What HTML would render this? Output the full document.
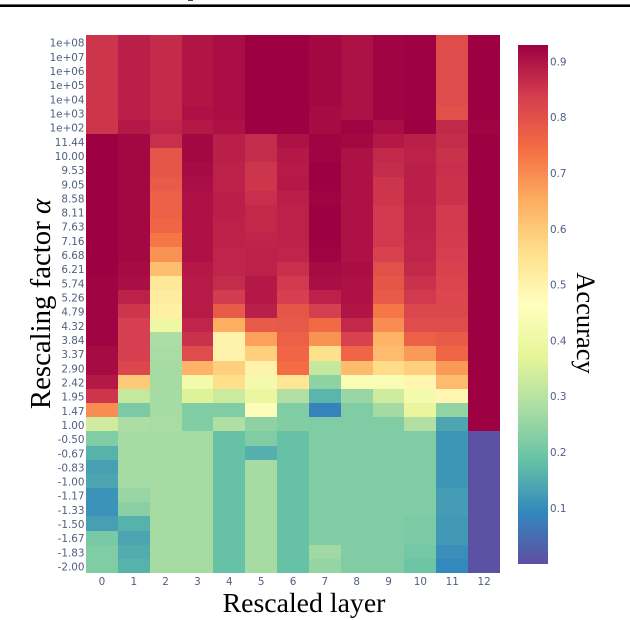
<!DOCTYPE html>
<html>
<head>
<meta charset="utf-8">
<style>
html,body{margin:0;padding:0;background:#fff;width:630px;height:620px;overflow:hidden}
svg{display:block}
.tick{font-family:"DejaVu Sans","Liberation Sans",sans-serif;font-size:10.4px;fill:#4f5f80}
.title{font-family:"Liberation Serif",serif;font-size:27.8px;fill:#000}
</style>
</head>
<body>
<svg id="chart" width="630" height="620" viewBox="0 0 630 620" xmlns="http://www.w3.org/2000/svg">
  <rect x="0" y="4" width="630" height="1" fill="#666"/>
  <rect x="0" y="5" width="630" height="2" fill="#000"/>
  <rect x="188" y="0" width="5" height="1" fill="#444"/>
  <g id="cells"></g>
  <g id="yticks"></g>
  <g id="xticks"></g>
  <g id="cbar"></g>
  <g id="cticks"></g>
  <text class="title" x="304" y="612" text-anchor="middle">Rescaled layer</text>
  <text class="title" style="font-size:28.8px" transform="translate(50,304) rotate(-90)" text-anchor="middle">Rescaling factor <tspan font-style="italic">α</tspan></text>
  <text class="title" style="font-size:26.5px" transform="translate(577,323) rotate(90)" text-anchor="middle">Accuracy</text>
</svg>
<script>
const layerLabels = ["0","1","2","3","4","5","6","7","8","9","10","11","12"];
const alphaLabels = ["1e+08","1e+07","1e+06","1e+05","1e+04","1e+03","1e+02",
  "11.44","10.00","9.53","9.05","8.58","8.11","7.63","7.16","6.68","6.21","5.74","5.26","4.79","4.32","3.84","3.37","2.90","2.42","1.95","1.47","1.00",
  "-0.50","-0.67","-0.83","-1.00","-1.17","-1.33","-1.50","-1.67","-1.83","-2.00"];
const colorbarTicks = [0.1,0.2,0.3,0.4,0.5,0.6,0.7,0.8,0.9];
const spectralScale = [[94,79,162],[50,136,189],[102,194,165],[171,221,164],[230,245,152],[255,255,191],[254,224,139],[253,174,97],[244,109,67],[213,62,79],[158,1,66]];
const accuracyLayer0 = [.85,.85,.85,.85,.85,.85,.85, .93,.93,.93,.93,.93,.93,.93,.93,.93,.93,.925,.925,.925,.925,.925,.915,.915,.895,.85,.70,.335, .22,.16,.13,.14,.11,.11,.13,.21,.22,.22];
const accuracyLayer1 = [.884,.884,.884,.884,.884,.884,.895, .92,.92,.92,.92,.92,.92,.92,.92,.92,.915,.91,.88,.85,.835,.835,.835,.82,.60,.32,.215,.28, .272,.272,.272,.272,.255,.235,.16,.14,.15,.16];
const accuracyLayer2 = [.866,.866,.866,.866,.866,.866,.875, .86,.79,.79,.78,.77,.77,.76,.73,.69,.62,.53,.52,.51,.40,.28,.275,.272,.272,.272,.272,.275, .272,.272,.272,.272,.272,.272,.272,.272,.272,.272];
const accuracyLayer3 = [.90,.90,.90,.90,.90,.905,.895, .92,.92,.915,.91,.905,.905,.905,.905,.905,.895,.89,.89,.89,.875,.855,.81,.64,.42,.36,.22,.225, .272,.272,.272,.272,.272,.272,.272,.272,.272,.272];
const accuracyLayer4 = [.91,.91,.91,.91,.91,.91,.905, .884,.884,.88,.88,.885,.885,.88,.88,.875,.875,.865,.84,.78,.65,.50,.50,.59,.56,.33,.22,.285, .187,.187,.187,.187,.187,.187,.187,.187,.187,.187];
const accuracyLayer5 = [.93,.93,.93,.93,.93,.93,.93, .865,.865,.85,.85,.86,.87,.87,.875,.88,.88,.895,.895,.885,.78,.67,.59,.50,.42,.39,.45,.24, .22,.155,.272,.272,.272,.272,.272,.272,.272,.272];
const accuracyLayer6 = [.93,.93,.93,.93,.93,.93,.93, .905,.895,.89,.895,.885,.88,.88,.88,.875,.86,.845,.835,.79,.785,.77,.76,.745,.54,.29,.22,.225, .187,.187,.187,.187,.187,.187,.187,.187,.187,.187];
const accuracyLayer7 = [.92,.92,.92,.92,.92,.915,.915, .925,.925,.93,.93,.925,.93,.93,.93,.925,.915,.91,.88,.835,.75,.69,.555,.32,.24,.165,.085,.22, .222,.222,.222,.222,.222,.222,.222,.222,.265,.25];
const accuracyLayer8 = [.906,.906,.906,.906,.906,.906,.925, .92,.905,.905,.905,.905,.905,.905,.905,.905,.91,.905,.905,.90,.87,.83,.76,.625,.44,.255,.22,.222, .222,.222,.222,.222,.222,.222,.222,.222,.222,.222];
const accuracyLayer9 = [.925,.925,.925,.925,.925,.925,.91, .895,.87,.865,.85,.85,.845,.845,.845,.83,.80,.79,.78,.73,.70,.64,.625,.565,.44,.335,.27,.222, .222,.222,.222,.222,.222,.222,.222,.222,.222,.222];
const accuracyLayer10 = [.928,.928,.928,.928,.928,.928,.93, .885,.88,.885,.885,.885,.88,.88,.875,.875,.87,.855,.845,.82,.81,.77,.68,.59,.49,.42,.385,.29, .222,.222,.222,.222,.222,.222,.215,.215,.205,.195];
const accuracyLayer11 = [.81,.81,.81,.81,.81,.80,.87, .865,.855,.86,.855,.855,.845,.845,.84,.835,.83,.825,.82,.82,.81,.78,.76,.68,.625,.49,.245,.14, .115,.115,.115,.115,.125,.125,.12,.12,.105,.095];
const accuracyLayer12 = [.93,.93,.93,.93,.93,.93,.925, .93,.93,.93,.93,.93,.93,.93,.93,.93,.93,.93,.93,.93,.93,.93,.93,.93,.93,.93,.93,.93, .005,.005,.005,.005,.005,.005,.005,.005,.005,.005];
const accuracyByLayer = [accuracyLayer0,accuracyLayer1,accuracyLayer2,accuracyLayer3,accuracyLayer4,accuracyLayer5,accuracyLayer6,accuracyLayer7,accuracyLayer8,accuracyLayer9,accuracyLayer10,accuracyLayer11,accuracyLayer12];
const zMin = 0;
const zMax = 0.93;

const NS = "http://www.w3.org/2000/svg";
const plot = {left:86, right:500, top:35, bottom:573};
const bar = {left:518, right:548, top:45, bottom:564};
function xBand(i){ return plot.left + (plot.right - plot.left) * i / layerLabels.length; }
function yBand(i){ return plot.top + (plot.bottom - plot.top) * i / alphaLabels.length; }
function zToBarY(z){ return bar.bottom - (z - zMin) / (zMax - zMin) * (bar.bottom - bar.top); }
function color(z){
  const t = Math.max(0, Math.min(1, (z - zMin) / (zMax - zMin))) * (spectralScale.length - 1);
  const i = Math.min(Math.floor(t), spectralScale.length - 2);
  const f = t - i, a = spectralScale[i], b = spectralScale[i + 1];
  return "rgb(" + a.map((v, k) => Math.round(v + (b[k] - v) * f)).join(",") + ")";
}
function make(tag, attrs, parent, txt){
  const el = document.createElementNS(NS, tag);
  for (const k in attrs) el.setAttribute(k, attrs[k]);
  if (txt !== undefined) el.textContent = txt;
  parent.appendChild(el);
  return el;
}
const cells = document.getElementById("cells");
accuracyByLayer.forEach((col, c) => {
  col.forEach((v, r) => {
    const x0 = Math.round(xBand(c)), x1 = Math.round(xBand(c + 1));
    const y0 = Math.round(yBand(r)), y1 = Math.round(yBand(r + 1));
    const el = make("rect", {x:x0, y:y0, width:x1 - x0, height:y1 - y0, fill:color(v), "shape-rendering":"crispEdges"}, cells);
    
    
  });
});
const yticks = document.getElementById("yticks");
alphaLabels.forEach((label, r) => {
  const el = make("text", {class:"tick", x:84.5, y:yBand(r + 0.5) + 4.6, "text-anchor":"end"}, yticks, label);
  
  
});
const xticks = document.getElementById("xticks");
layerLabels.forEach((label, c) => {
  const el = make("text", {class:"tick", x:xBand(c + 0.5), y:585, "text-anchor":"middle"}, xticks, label);
  
  
});
const cbar = document.getElementById("cbar");
for (let y = bar.top; y < bar.bottom; y++) {
  const z = zMax - (y + 0.5 - bar.top) / (bar.bottom - bar.top) * (zMax - zMin);
  const el = make("rect", {x:bar.left, y:y, width:bar.right - bar.left, height:1, fill:color(z), "shape-rendering":"crispEdges"}, cbar);
  
  
}
const cticks = document.getElementById("cticks");
colorbarTicks.forEach(t => {
  const el = make("text", {class:"tick", x:550, y:zToBarY(t) + 3.6}, cticks, t.toFixed(1));
  
  
});
</script>
</body>
</html>
